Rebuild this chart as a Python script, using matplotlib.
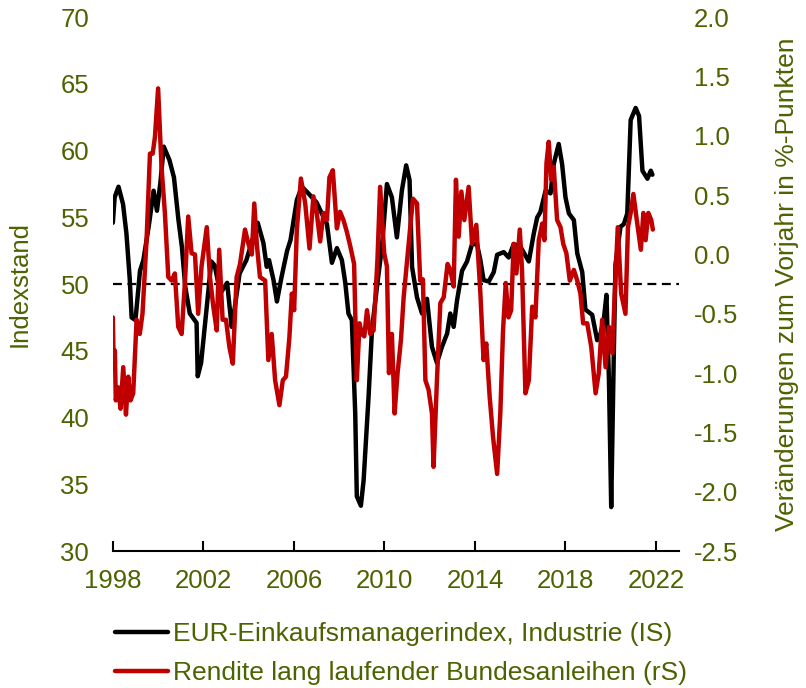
import matplotlib.pyplot as plt

plt.rcParams['font.family'] = ['Liberation Sans', 'DejaVu Sans']

olive = '#4d6200'

# EUR-Einkaufsmanagerindex Industrie (linke Skala)
pmi_t = [1998.00, 1998.08, 1998.25, 1998.45, 1998.60, 1998.75, 1998.83, 1999.00, 1999.20, 1999.35,
         1999.60, 1999.80, 1999.95, 2000.10, 2000.25, 2000.50, 2000.70, 2000.90, 2001.05, 2001.20,
         2001.40, 2001.70, 2001.75, 2001.90, 2002.15, 2002.35, 2002.50, 2002.75, 2003.05, 2003.25,
         2003.35, 2003.60, 2003.90, 2004.20, 2004.40, 2004.65, 2004.80, 2004.90, 2005.10, 2005.25,
         2005.45, 2005.70, 2005.85, 2006.13, 2006.35, 2006.64, 2007.01, 2007.23, 2007.46, 2007.68,
         2007.90, 2008.12, 2008.27, 2008.41, 2008.56, 2008.71, 2008.78, 2008.96, 2009.08, 2009.30,
         2009.45, 2009.67, 2009.89, 2010.11, 2010.33, 2010.55, 2010.77, 2010.96, 2011.11, 2011.22,
         2011.44, 2011.66, 2011.88, 2012.10, 2012.32, 2012.54, 2012.77, 2012.91, 2013.06, 2013.21,
         2013.43, 2013.65, 2013.87, 2014.09, 2014.24, 2014.38, 2014.61, 2014.83, 2014.98, 2015.27,
         2015.49, 2015.71, 2016.01, 2016.38, 2016.60, 2016.75, 2016.89, 2017.12, 2017.34, 2017.48,
         2017.70, 2017.85, 2018.00, 2018.15, 2018.37, 2018.52, 2018.74, 2018.88, 2019.18, 2019.40,
         2019.55, 2019.69, 2019.81, 2019.92, 2020.02, 2020.14, 2020.21, 2020.43, 2020.58, 2020.73,
         2020.88, 2021.10, 2021.25, 2021.40, 2021.62, 2021.77, 2021.84]
pmi = [54.6, 56.5, 57.3, 56.0, 53.8, 50.3, 47.5, 47.3, 51.0, 51.8,
       54.5, 57.0, 55.5, 57.6, 60.3, 59.3, 58.0, 54.8, 52.8, 49.8,
       47.8, 47.1, 43.1, 44.1, 48.3, 51.7, 51.4, 49.3, 50.1, 46.8,
       47.8, 50.8, 51.8, 53.5, 54.6, 53.1, 51.3, 51.8, 50.3, 48.7,
       50.5, 52.5, 53.3, 56.3, 57.3, 56.8, 56.1, 55.3, 54.5, 51.6,
       52.7, 51.8, 50.1, 47.8, 47.3, 40.3, 34.1, 33.4, 35.3, 41.6,
       46.6, 49.8, 52.8, 57.5, 56.5, 53.5, 57.0, 58.9, 57.8, 51.3,
       49.0, 47.8, 48.9, 45.3, 44.1, 45.3, 46.3, 47.8, 46.8, 48.8,
       51.0, 51.7, 53.0, 53.0, 51.8, 50.3, 50.2, 50.9, 52.2, 52.4,
       52.0, 53.0, 52.8, 51.7, 53.8, 55.0, 55.4, 57.0, 56.8, 59.0,
       60.5, 59.0, 56.5, 55.3, 54.8, 52.3, 50.9, 48.1, 47.7, 45.8,
       46.3, 47.3, 49.2, 42.8, 33.3, 45.3, 51.5, 54.3, 54.5, 55.3,
       62.3, 63.2, 62.6, 58.5, 57.9, 58.5, 58.2]

# Rendite Bundesanleihen, Veraenderung zum Vorjahr (rechte Skala)
yld_t = [1998.00, 1998.04, 1998.09, 1998.13, 1998.24, 1998.34, 1998.46, 1998.58, 1998.68, 1998.78,
         1998.90, 1999.05, 1999.19, 1999.31, 1999.49, 1999.64, 1999.76, 1999.86, 2000.00, 2000.15,
         2000.30, 2000.45, 2000.60, 2000.74, 2000.89, 2001.04, 2001.19, 2001.33, 2001.48, 2001.63,
         2001.77, 2001.92, 2002.15, 2002.29, 2002.44, 2002.59, 2002.70, 2002.85, 2003.00, 2003.15,
         2003.30, 2003.47, 2003.62, 2003.84, 2003.99, 2004.14, 2004.25, 2004.36, 2004.50, 2004.73,
         2004.87, 2005.02, 2005.17, 2005.36, 2005.51, 2005.65, 2005.80, 2005.91, 2006.01, 2006.13,
         2006.31, 2006.50, 2006.69, 2006.86, 2007.01, 2007.16, 2007.31, 2007.46, 2007.57, 2007.72,
         2007.90, 2008.04, 2008.19, 2008.34, 2008.49, 2008.66, 2008.78, 2008.90, 2009.00, 2009.11,
         2009.23, 2009.37, 2009.52, 2009.69, 2009.81, 2009.99, 2010.11, 2010.20, 2010.33, 2010.45,
         2010.58, 2010.73, 2010.85, 2011.00, 2011.14, 2011.26, 2011.44, 2011.58, 2011.70, 2011.81,
         2011.95, 2012.10, 2012.17, 2012.32, 2012.47, 2012.62, 2012.79, 2012.91, 2013.06, 2013.16,
         2013.28, 2013.40, 2013.53, 2013.72, 2013.87, 2014.06, 2014.24, 2014.38, 2014.50, 2014.65,
         2014.80, 2014.98, 2015.12, 2015.24, 2015.36, 2015.48, 2015.60, 2015.71, 2015.83, 2015.98,
         2016.08, 2016.23, 2016.38, 2016.53, 2016.67, 2016.82, 2016.97, 2017.07, 2017.16, 2017.26,
         2017.37, 2017.48, 2017.63, 2017.78, 2017.90, 2018.04, 2018.19, 2018.37, 2018.52, 2018.66,
         2018.78, 2018.96, 2019.14, 2019.33, 2019.47, 2019.62, 2019.77, 2019.92, 2020.07, 2020.17,
         2020.31, 2020.46, 2020.65, 2020.76, 2020.88, 2021.00, 2021.15, 2021.33, 2021.44, 2021.54,
         2021.66, 2021.79, 2021.86]
yld = [-0.53, -0.95, -0.81, -1.23, -1.12, -1.30, -0.95, -1.35, -1.03, -1.23,
       -1.17, -0.55, -0.67, -0.50, 0.12, 0.85, 0.85, 0.99, 1.40, 0.74,
       0.35, -0.19, -0.22, -0.16, -0.61, -0.67, -0.22, 0.32, 0.01, 0.00,
       -0.50, -0.10, 0.23, -0.19, -0.44, -0.64, 0.04, -0.55, -0.55, -0.78,
       -0.92, -0.19, -0.08, 0.21, 0.09, 0.00, 0.43, 0.09, -0.19, -0.22,
       -0.89, -0.67, -1.06, -1.27, -1.06, -1.03, -0.70, -0.33, -0.47, 0.21,
       0.64, 0.43, 0.05, 0.49, 0.35, 0.11, 0.35, 0.29, 0.65, 0.71,
       0.22, 0.36, 0.29, 0.19, 0.07, -0.08, -1.06, -0.58, -0.67, -0.69,
       -0.47, -0.67, -0.64, -0.05, 0.57, 0.01, -0.10, -1.00, -0.67, -1.34,
       -1.00, -0.72, -0.36, -0.05, 0.23, 0.47, 0.43, -0.22, -0.21, -1.06,
       -1.14, -1.34, -1.79, -1.06, -0.41, -0.36, -0.08, -0.13, -0.27, 0.63,
       0.15, 0.53, 0.29, 0.57, 0.09, 0.25, -0.33, -0.89, -0.75, -1.20,
       -1.54, -1.85, -1.34, -0.64, -0.24, -0.53, -0.47, 0.09, -0.16, 0.21,
       -0.13, -1.17, -1.06, -0.44, -0.53, 0.12, 0.26, 0.12, 0.77, 0.95,
       0.63, 0.74, 0.29, 0.23, 0.09, 0.01, -0.22, -0.13, -0.22, -0.33,
       -0.58, -0.58, -0.78, -1.17, -1.00, -0.55, -0.95, -0.61, -0.83, -0.36,
       0.23, -0.33, -0.50, 0.23, 0.35, 0.51, 0.29, 0.04, 0.35, 0.12,
       0.35, 0.29, 0.21]

years = [1998, 2002, 2006, 2010, 2014, 2018, 2022]
left_ticks = [30, 35, 40, 45, 50, 55, 60, 65, 70]
right_ticks = [-2.5, -2.0, -1.5, -1.0, -0.5, 0.0, 0.5, 1.0, 1.5, 2.0]

fig = plt.figure(figsize=(8.06, 6.88), dpi=100)
ax = fig.add_axes([0.140, 0.199, 0.702, 0.776])
ax2 = ax.twinx()

ax.axhline(50, color='black', lw=1.6, ls=(0, (4, 2.5)), zorder=1)
l1, = ax.plot(pmi_t, pmi, color='black', lw=3.2, solid_joinstyle='round',
              solid_capstyle='round', label='EUR-Einkaufsmanagerindex, Industrie (IS)')
l2, = ax2.plot(yld_t, yld, color='#c00000', lw=3.2, solid_joinstyle='round',
               solid_capstyle='round', label='Rendite lang laufender Bundesanleihen (rS)')

ax.set_xlim(1998, 2023)
ax.set_ylim(30, 70)
ax2.set_ylim(-2.5, 2.0)

ax.set_xticks(years)
ax.set_yticks(left_ticks)
ax2.set_yticks(right_ticks)
ax2.set_yticklabels(['%.1f' % v for v in right_ticks])

for a in (ax, ax2):
    for s in ('top', 'left', 'right'):
        a.spines[s].set_visible(False)
ax2.spines['bottom'].set_visible(False)
ax.spines['bottom'].set_linewidth(1.5)

ax.tick_params(axis='x', direction='in', length=7, width=1.5, colors='black',
               labelcolor=olive, labelsize=18.5, pad=13)
ax.tick_params(axis='y', length=0, labelcolor=olive, labelsize=18.5, pad=17)
ax2.tick_params(axis='y', length=0, labelcolor=olive, labelsize=18.5, pad=11)

ax.set_ylabel('Indexstand', color=olive, fontsize=18.5)
ax.yaxis.set_label_coords(-0.143, 0.5)
ax2.set_ylabel('Veränderungen zum Vorjahr in %-Punkten', color=olive, fontsize=19)
ax2.yaxis.set_label_coords(1.170, 0.5)

leg = fig.legend(handles=[l1, l2], loc='center left', bbox_to_anchor=(0.143, 0.050),
                 frameon=False, fontsize=19, handlelength=2.0, handletextpad=0.2,
                 labelspacing=0.55, borderpad=0, borderaxespad=0)
for t in leg.get_texts():
    t.set_color(olive)

plt.savefig('out.png', dpi=100)
